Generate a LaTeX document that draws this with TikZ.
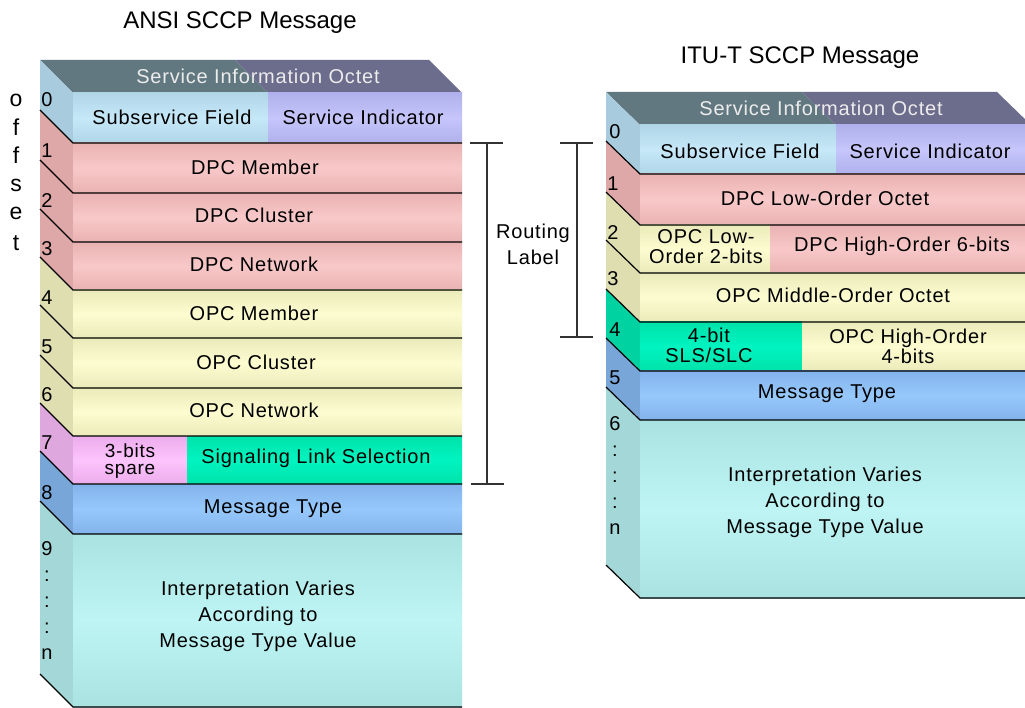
\documentclass[tikz,border=0pt]{standalone}
\usepackage{fontspec}
\setmainfont[LetterSpace=4]{Liberation Sans}
\newfontfamily\ttlfont{Liberation Sans}
\definecolor{slateT}{RGB}{98,120,128}
\definecolor{slateP}{RGB}{108,108,140}
\definecolor{blueO}{RGB}{176,214,232}
\definecolor{blueI}{RGB}{198,232,248}
\definecolor{blueS}{RGB}{168,204,222}
\definecolor{lavO}{RGB}{176,176,236}
\definecolor{lavI}{RGB}{198,198,252}
\definecolor{pinkO}{RGB}{234,178,178}
\definecolor{pinkI}{RGB}{248,200,200}
\definecolor{pinkS}{RGB}{222,168,168}
\definecolor{yelO}{RGB}{234,234,186}
\definecolor{yelI}{RGB}{252,252,208}
\definecolor{yelS}{RGB}{222,222,176}
\definecolor{magO}{RGB}{236,172,236}
\definecolor{magI}{RGB}{252,196,252}
\definecolor{magS}{RGB}{222,168,222}
\definecolor{grnO}{RGB}{0,226,170}
\definecolor{grnI}{RGB}{0,244,192}
\definecolor{grnS}{RGB}{0,210,162}
\definecolor{msgO}{RGB}{130,178,234}
\definecolor{msgI}{RGB}{150,200,252}
\definecolor{msgS}{RGB}{120,166,216}
\definecolor{cyO}{RGB}{170,226,226}
\definecolor{cyI}{RGB}{190,244,244}
\definecolor{cyS}{RGB}{164,216,216}
\definecolor{topTxt}{RGB}{236,236,236}
\begin{document}
\begin{tikzpicture}[x=1pt,y=-1pt,
  face/.style n args={2}{top color=#1,bottom color=#1,middle color=#2},
  edge/.style={black,line width=1.2pt},
  brk/.style={draw=black!80,line width=1.3pt},
  lbl/.style={font=\fontsize{20}{26}\selectfont,inner sep=0pt,align=center},
  tight/.style={font=\fontsize{20}{20}\selectfont,inner sep=0pt,align=center},
  vtight/.style={font=\fontsize{19}{17}\selectfont,inner sep=0pt,align=center},
  ttl/.style={font=\ttlfont\fontsize{24}{28}\selectfont,inner sep=0pt},
  num/.style={font=\fontsize{20}{26}\selectfont,inner sep=0pt,align=center},
  offl/.style={font=\ttlfont\fontsize{23}{26}\selectfont,inner sep=0pt}]
\useasboundingbox (0,0) rectangle (1025,708);
\clip (0,0) rectangle (1025,708);

% ================= LEFT STACK (ANSI) =================
% top face
\fill[slateT] (40,60) -- (235,60) -- (268,93) -- (73,93) -- cycle;
\fill[slateP] (235,60) -- (429,60) -- (462,93) -- (268,93) -- cycle;
% side faces
\fill[blueS] (40,60)  -- (73,93)  -- (73,143) -- (40,110) -- cycle;
\fill[pinkS] (40,110) -- (73,143) -- (73,193) -- (40,160) -- cycle;
\fill[pinkS] (40,160) -- (73,193) -- (73,242) -- (40,209) -- cycle;
\fill[pinkS] (40,209) -- (73,242) -- (73,290) -- (40,257) -- cycle;
\fill[yelS]  (40,257) -- (73,290) -- (73,338) -- (40,305) -- cycle;
\fill[yelS]  (40,305) -- (73,338) -- (73,388) -- (40,355) -- cycle;
\fill[yelS]  (40,355) -- (73,388) -- (73,436) -- (40,403) -- cycle;
\fill[magS]  (40,403) -- (73,436) -- (73,484) -- (40,451) -- cycle;
\fill[msgS]  (40,451) -- (73,484) -- (73,534) -- (40,501) -- cycle;
\fill[cyS]   (40,501) -- (73,534) -- (73,707) -- (40,674) -- cycle;
% front faces
\shade[face={blueO}{blueI}] (73,93) rectangle (268,143);
\shade[face={lavO}{lavI}] (268,93) rectangle (462,143);
\shade[face={pinkO}{pinkI}] (73,143) rectangle (462,193);
\shade[face={pinkO}{pinkI}] (73,193) rectangle (462,242);
\shade[face={pinkO}{pinkI}] (73,242) rectangle (462,290);
\shade[face={yelO}{yelI}] (73,290) rectangle (462,338);
\shade[face={yelO}{yelI}] (73,338) rectangle (462,388);
\shade[face={yelO}{yelI}] (73,388) rectangle (462,436);
\shade[face={magO}{magI}] (73,436) rectangle (187,484);
\shade[face={grnO}{grnI}] (187,436) rectangle (462,484);
\shade[face={msgO}{msgI}] (73,484) rectangle (462,534);
\shade[face={cyO}{cyI}] (73,534) rectangle (462,707);
% edges
\foreach \b in {143,193,242,290,338,388,436,484,534,707}
  \draw[edge] (40,{\b-33}) -- (73,\b) -- (462,\b);

% ================= RIGHT STACK (ITU-T) =================
\fill[slateT] (606,92) -- (802,92) -- (836,125) -- (640,125) -- cycle;
\fill[slateP] (802,92) -- (997,92) -- (1031,125) -- (836,125) -- cycle;
\fill[blueS] (606,92)  -- (640,125) -- (640,174) -- (606,141) -- cycle;
\fill[pinkS] (606,141) -- (640,174) -- (640,225) -- (606,192) -- cycle;
\fill[yelS]  (606,192) -- (640,225) -- (640,273) -- (606,240) -- cycle;
\fill[yelS]  (606,240) -- (640,273) -- (640,322) -- (606,289) -- cycle;
\fill[grnS]  (606,289) -- (640,322) -- (640,371) -- (606,338) -- cycle;
\fill[msgS]  (606,338) -- (640,371) -- (640,420) -- (606,387) -- cycle;
\fill[cyS]   (606,387) -- (640,420) -- (640,598) -- (606,565) -- cycle;
\shade[face={blueO}{blueI}] (640,125) rectangle (836,174);
\shade[face={lavO}{lavI}] (836,125) rectangle (1031,174);
\shade[face={pinkO}{pinkI}] (640,174) rectangle (1031,225);
\shade[face={yelO}{yelI}] (640,225) rectangle (770,273);
\shade[face={pinkO}{pinkI}] (770,225) rectangle (1031,273);
\shade[face={yelO}{yelI}] (640,273) rectangle (1031,322);
\shade[face={grnO}{grnI}] (640,322) rectangle (802,371);
\shade[face={yelO}{yelI}] (802,322) rectangle (1031,371);
\shade[face={msgO}{msgI}] (640,371) rectangle (1031,420);
\shade[face={cyO}{cyI}] (640,420) rectangle (1031,598);
\foreach \b in {174,225,273,322,371,420,598}
  \draw[edge] (606,{\b-33}) -- (640,\b) -- (1031,\b);

% ================= TEXT: LEFT =================
\node[ttl] (ltitle) at (240,23) {ANSI SCCP Message};
\node[lbl,text=topTxt] (ltop) at (258,76) {Service Information Octet};
\node[lbl] (l0a) at (172,117) {Subservice Field};
\node[lbl] (l0b) at (363,117) {Service Indicator};
\node[lbl] (l1) at (255,167) {DPC Member};
\node[lbl] (l2) at (254,215) {DPC Cluster};
\node[lbl] (l3) at (254,264) {DPC Network};
\node[lbl] (l4) at (254,313) {OPC Member};
\node[lbl] (l5) at (256,362) {OPC Cluster};
\node[lbl] (l6) at (254,410) {OPC Network};
\node[vtight] (l7a) at (130,461) {3-bits\\spare};
\node[lbl] (l7b) at (316,458) {Signaling Link Selection};
\node[lbl] (l8) at (273,509) {Message Type};
\node[lbl] (l9) at (258,616) {Interpretation Varies\\According to\\Message Type Value};
% offsets
\node[num] (ln0) at (47,100) {0};
\node[num] (ln1) at (47,151) {1};
\node[num] (ln2) at (47,201) {2};
\node[num] (ln3) at (47,249) {3};
\node[num] (ln4) at (47,298) {4};
\node[num] (ln5) at (47,347) {5};
\node[num] (ln6) at (47,395) {6};
\node[num] (ln7) at (47,443) {7};
\node[num] (ln8) at (47,493) {8};
\node[num,anchor=north] (ln9) at (47,541) {9\\:\\:\\:\\n};
% "offset"
\node[offl] (off1) at (16,100) {o};
\node[offl] (off2) at (16,127) {f};
\node[offl] (off3) at (16,155) {f};
\node[offl] (off4) at (16,185) {s};
\node[offl] (off5) at (16,213) {e};
\node[offl] (off6) at (16,243) {t};

% ================= TEXT: RIGHT =================
\node[ttl] (rtitle) at (800,58) {ITU-T SCCP Message};
\node[lbl,text=topTxt] (rtop) at (821,108) {Service Information Octet};
\node[lbl] (r0a) at (740,151) {Subservice Field};
\node[lbl] (r0b) at (930,151) {Service Indicator};
\node[lbl] (r1) at (825,198) {DPC Low-Order Octet};
\node[tight] (r2a) at (706,247) {OPC Low-\\Order 2-bits};
\node[lbl] (r2b) at (902,246) {DPC High-Order 6-bits};
\node[lbl] (r3) at (833,295) {OPC Middle-Order Octet};
\node[tight] (r4a) at (709,345) {4-bit\\SLS/SLC};
\node[tight] (r4b) at (908,346) {OPC High-Order\\4-bits};
\node[lbl] (r5) at (827,394) {Message Type};
\node[lbl] (r6) at (825,502) {Interpretation Varies\\According to\\Message Type Value};
\node[num] (rn0) at (615,132) {0};
\node[num] (rn1) at (613,184) {1};
\node[num] (rn2) at (613,233) {2};
\node[num] (rn3) at (613,279) {3};
\node[num] (rn4) at (615,330) {4};
\node[num] (rn5) at (615,378) {5};
\node[num,anchor=north] (rn6) at (615,416) {6\\:\\:\\:\\n};

% ================= ROUTING LABEL BRACKETS =================
\node[lbl] (rl) at (533,244) {Routing\\Label};
\coordinate (la) at (487,143);
\coordinate (lb) at (487,484);
\coordinate (la1) at (470,143); \coordinate (la2) at (503,143);
\coordinate (lb1) at (471,484); \coordinate (lb2) at (504,484);
\draw[brk] (la) -- (lb);
\draw[brk] (la1) -- (la2);
\draw[brk] (lb1) -- (lb2);
\coordinate (ra) at (577,143);
\coordinate (rb) at (577,337);
\coordinate (ra1) at (560,143); \coordinate (ra2) at (593,143);
\coordinate (rb1) at (560,337); \coordinate (rb2) at (593,337);
\draw[brk] (ra) -- (rb);
\draw[brk] (ra1) -- (ra2);
\draw[brk] (rb1) -- (rb2);
\end{tikzpicture}
\end{document}
